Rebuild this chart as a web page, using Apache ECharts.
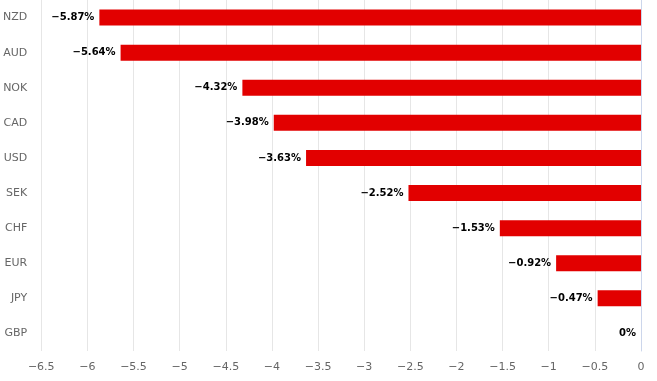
<!DOCTYPE html>
<html><head><meta charset="utf-8">
<script src="https://cdn.jsdelivr.net/npm/echarts@6/dist/echarts.min.js"></script>
<style>html,body{margin:0;padding:0;background:#fff}#c{width:657px;height:381px}</style>
</head><body><div id="c"></div>
<script>
const categories = ["NZD","AUD","NOK","CAD","USD","SEK","CHF","EUR","JPY","GBP"];
const values = [-5.87,-5.64,-4.32,-3.98,-3.63,-2.52,-1.53,-0.92,-0.47,0];
const FONT = '"DejaVu Sans", Verdana, sans-serif';
const minus = s => String(s).replace('-', '\u2212');
const chart = echarts.init(document.getElementById('c'), null, {renderer:'canvas'});
chart.setOption({
  animation:false,
  grid:{left:40, right:16, top:-3, height:354, containLabel:false},
  xAxis:{type:'value', min:-6.5, max:0, interval:0.5,
    axisLine:{show:false}, axisTick:{show:false},
    splitLine:{lineStyle:{color:'#e6e6e6'}},
    axisLabel:{color:'#666', fontFamily:FONT, fontSize:11, margin:11, formatter:v=>minus(v)}},
  yAxis:{type:'category', data:categories, inverse:true,
    axisLine:{lineStyle:{color:'#ccd6eb'}},
    axisTick:{length:9, lineStyle:{color:'#ccd6eb'}},
    axisLabel:{color:'#666', fontFamily:FONT, fontSize:11, margin:14}},
  series:[{type:'bar', data:values, barWidth:16,
    itemStyle:{color:'#e20000'},
    label:{show:true, position:'left', distance:5, color:'#000', fontWeight:'bold', fontFamily:FONT, fontSize:10,
      formatter:p=>minus(p.value)+'%'}}]
});
</script></body></html>
